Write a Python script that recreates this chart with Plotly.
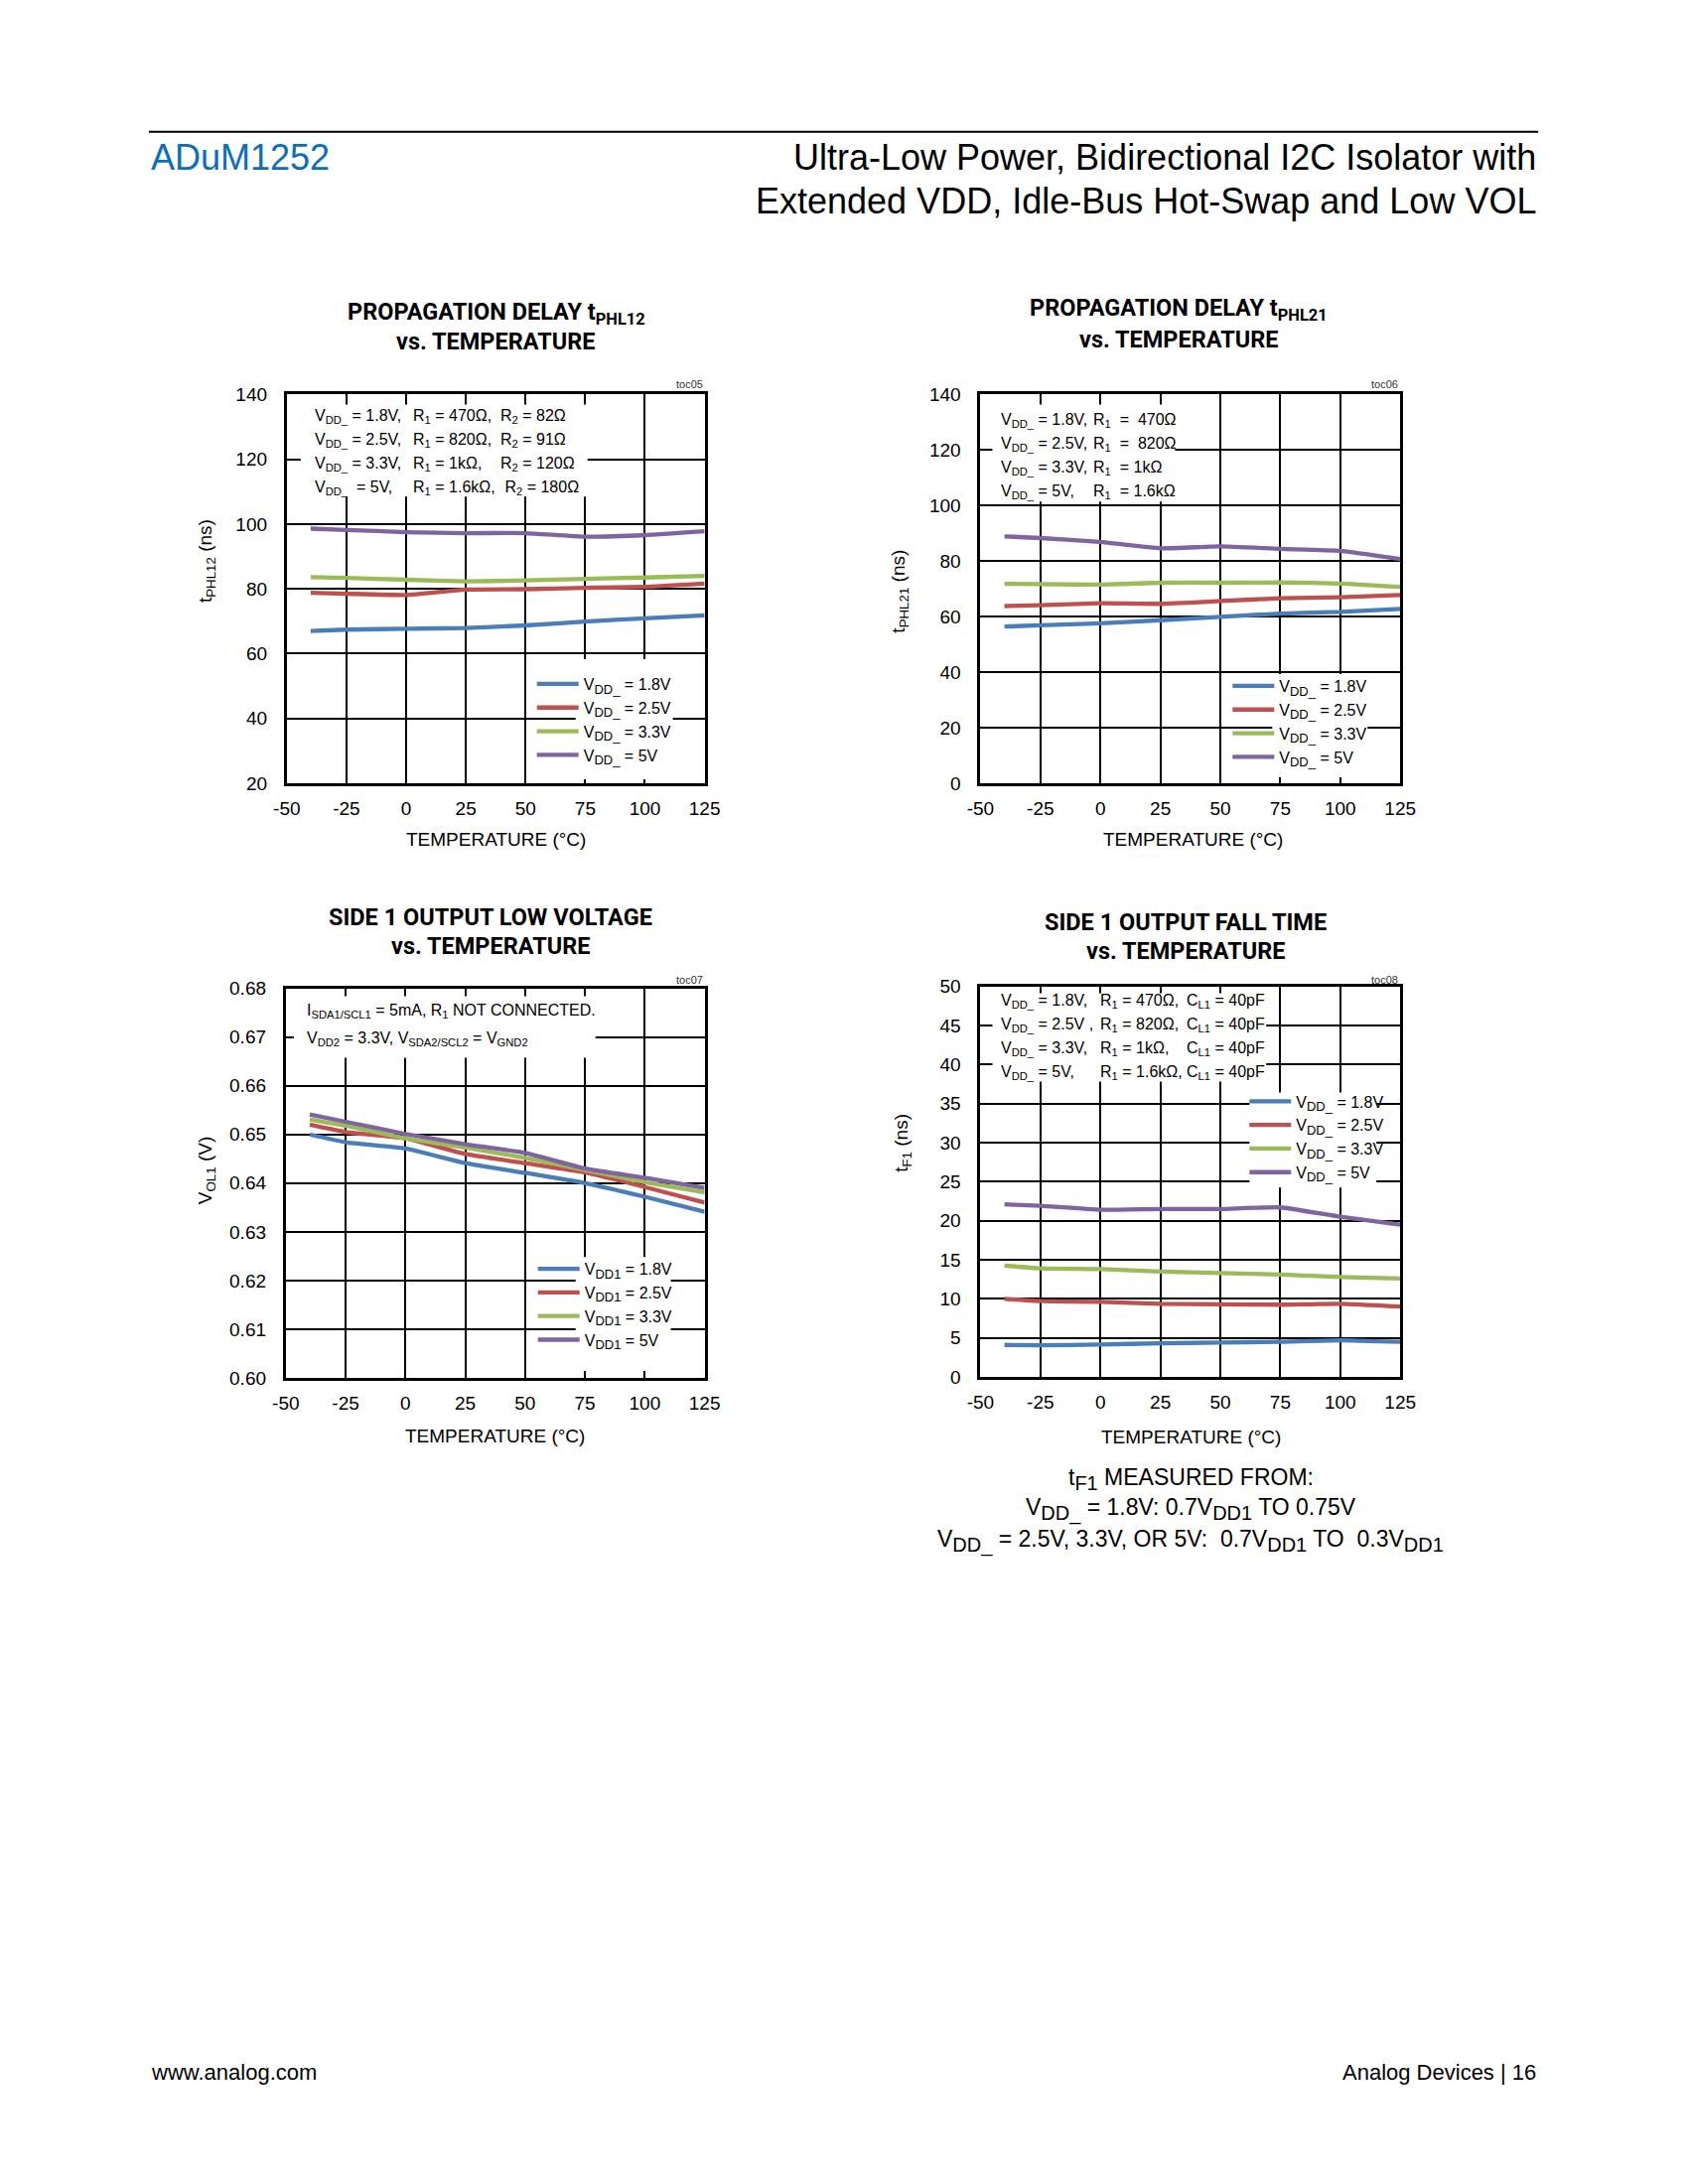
import plotly.graph_objects as go

# ---------------- data ----------------
temps = [-40, -25, 0, 25, 50, 75, 100, 125]

SL = '<sub><span style="font-size:13px">%s</span></sub>'
vdd_labels = ["V" + SL % "DD_" + " = 1.8V", "V" + SL % "DD_" + " = 2.5V",
              "V" + SL % "DD_" + " = 3.3V", "V" + SL % "DD_" + " = 5V"]
vdd1_labels = ["V" + SL % "DD1" + " = 1.8V", "V" + SL % "DD1" + " = 2.5V",
               "V" + SL % "DD1" + " = 3.3V", "V" + SL % "DD1" + " = 5V"]
colors = ["#4A7EBB", "#C0504D", "#9BBB59", "#8064A2"]

tphl12_18 = [67.0, 67.4, 67.7, 67.9, 68.7, 69.9, 70.9, 71.8]
tphl12_25 = [78.8, 78.5, 78.1, 79.8, 79.9, 80.3, 80.6, 81.6]
tphl12_33 = [83.6, 83.4, 82.8, 82.3, 82.6, 83.1, 83.5, 84.0]
tphl12_50 = [98.6, 98.2, 97.5, 97.2, 97.2, 96.1, 96.6, 97.8]

tphl21_18 = [56.4, 56.9, 57.6, 58.7, 59.9, 61.1, 61.7, 62.8]
tphl21_25 = [63.8, 64.1, 64.8, 64.6, 65.6, 66.6, 67.0, 67.8]
tphl21_33 = [71.8, 71.7, 71.5, 72.2, 72.2, 72.3, 71.9, 70.7]
tphl21_50 = [88.9, 88.3, 86.9, 84.6, 85.3, 84.4, 83.7, 80.7]

vol1_18 = [0.6500, 0.6484, 0.6471, 0.6441, 0.6421, 0.6400, 0.6372, 0.6341]
vol1_25 = [0.6520, 0.6505, 0.6492, 0.6460, 0.6441, 0.6422, 0.6392, 0.6360]
vol1_33 = [0.6531, 0.6518, 0.6492, 0.6473, 0.6452, 0.6427, 0.6402, 0.6381]
vol1_50 = [0.6541, 0.6526, 0.6501, 0.6480, 0.6462, 0.6430, 0.6411, 0.6390]

tf1_18 = [4.1, 4.05, 4.15, 4.3, 4.4, 4.5, 4.7, 4.5]
tf1_25 = [10.0, 9.7, 9.6, 9.35, 9.3, 9.25, 9.35, 9.0]
tf1_33 = [14.25, 13.9, 13.8, 13.5, 13.3, 13.1, 12.8, 12.6]
tf1_50 = [22.1, 21.9, 21.4, 21.5, 21.5, 21.7, 20.5, 19.5]

x_ticks = [-50, -25, 0, 25, 50, 75, 100, 125]
x_tick_labels = ["-50", "-25", "0", "25", "50", "75", "100", "125"]
y1_ticks = [20, 40, 60, 80, 100, 120, 140]
y2_ticks = [0, 20, 40, 60, 80, 100, 120, 140]
y3_ticks = [0.60, 0.61, 0.62, 0.63, 0.64, 0.65, 0.66, 0.67, 0.68]
y4_ticks = [0, 5, 10, 15, 20, 25, 30, 35, 40, 45, 50]

titles_l1 = ["PROPAGATION DELAY t<sub>PHL12</sub>", "PROPAGATION DELAY t<sub>PHL21</sub>",
             "SIDE 1 OUTPUT LOW VOLTAGE", "SIDE 1 OUTPUT FALL TIME"]
titles_l2 = ["vs. TEMPERATURE"] * 4
ytitles = ["t<sub>PHL12</sub> (ns)", "t<sub>PHL21</sub> (ns)", "V<sub>OL1</sub> (V)", "t<sub>F1</sub> (ns)"]
xtitle = "TEMPERATURE (°C)"
tocs = ["toc05", "toc06", "toc07", "toc08"]

c1_notes = [["V<sub>DD_</sub> = 1.8V,", "R<sub>1</sub> = 470Ω,", "R<sub>2</sub> = 82Ω"],
            ["V<sub>DD_</sub> = 2.5V,", "R<sub>1</sub> = 820Ω,", "R<sub>2</sub> = 91Ω"],
            ["V<sub>DD_</sub> = 3.3V,", "R<sub>1</sub> = 1kΩ,", "R<sub>2</sub> = 120Ω"],
            ["V<sub>DD_</sub>\u00a0 = 5V,", "R<sub>1</sub> = 1.6kΩ,", "\u00a0R<sub>2</sub> = 180Ω"]]
c2_notes = [["V<sub>DD_</sub> = 1.8V,", "R<sub>1</sub>\u00a0 = \u00a0470Ω"],
            ["V<sub>DD_</sub> = 2.5V,", "R<sub>1</sub>\u00a0 = \u00a0820Ω"],
            ["V<sub>DD_</sub> = 3.3V,", "R<sub>1</sub>\u00a0 = 1kΩ"],
            ["V<sub>DD_</sub> = 5V,", "R<sub>1</sub>\u00a0 = 1.6kΩ"]]
c3_notes = ["I<sub>SDA1/SCL1</sub> = 5mA, R<sub>1</sub> NOT CONNECTED.",
            "V<sub>DD2</sub> = 3.3V, V<sub>SDA2/SCL2</sub> = V<sub>GND2</sub>"]
c4_notes = [["V<sub>DD_</sub> = 1.8V,", "R<sub>1</sub> = 470Ω,", "C<sub>L1</sub> = 40pF"],
            ["V<sub>DD_</sub> = 2.5V ,", "R<sub>1</sub> = 820Ω,", "C<sub>L1</sub> = 40pF"],
            ["V<sub>DD_</sub> = 3.3V,", "R<sub>1</sub> = 1kΩ,", "C<sub>L1</sub> = 40pF"],
            ["V<sub>DD_</sub> = 5V,", "R<sub>1</sub> = 1.6kΩ,", "C<sub>L1</sub> = 40pF"]]
SB = '<sub><span style="font-size:20px">%s</span></sub>'
foot_notes = ["t" + SB % "F1" + " MEASURED FROM:",
              "V" + SB % "DD_" + " = 1.8V: 0.7V" + SB % "DD1" + " TO 0.75V",
              "V" + SB % "DD_" + " = 2.5V, 3.3V, OR 5V:\u00a0 0.7V" + SB % "DD1" + " TO\u00a0 0.3V" + SB % "DD1"]

# ---------------- layout helpers (target page pixel -> paper) ----------------
W, H = 1680, 2180
SX, CX = 0.9827, 14.0     # observed page mapping of the rendered figure
SY, CY = 0.9918, 9.0
def qx(p): return (p - CX) / SX
def qy(p): return (p - CY) / SY
def fx(p): return qx(p) / W
def fy(p): return 1 - qy(p) / H

FONT = "Liberation Sans, Arial, sans-serif"
TFONT = "Roboto, Liberation Sans, sans-serif"

rects = [(289, 710, 397, 789), (988, 1411, 397, 789), (288, 710, 996, 1389), (988, 1411, 994, 1388)]
yranges = [[20, 140], [0, 140], [0.60, 0.68], [0, 50]]
yticks = [y1_ticks, y2_ticks, y3_ticks, y4_ticks]
ydata = [[tphl12_18, tphl12_25, tphl12_33, tphl12_50],
         [tphl21_18, tphl21_25, tphl21_33, tphl21_50],
         [vol1_18, vol1_25, vol1_33, vol1_50],
         [tf1_18, tf1_25, tf1_33, tf1_50]]
names = [vdd_labels, vdd_labels, vdd1_labels, vdd_labels]

fig = go.Figure()
layout = dict(width=W, height=H, margin=dict(l=0, r=0, t=0, b=0),
              paper_bgcolor="white", plot_bgcolor="white",
              font=dict(family=FONT, color="black"), showlegend=True)
annotations = []
shapes = []

# legend placement (page px): line start x, first row center y
leg_pos = [(541, 690), (1242, 692), (542, 1280), (1259, 1111)]

# white boxes behind notes and legends (page px)
white_boxes = [(303, 592, 407, 500), (580, 678, 664, 785),
               (1000, 1184, 407, 505), (1282, 1378, 679, 783),
               (296, 600, 1004, 1066), (580, 676, 1267, 1382),
               (1000, 1276, 1001, 1090), (1259, 1387, 1101, 1197)]

for i in range(4):
    k = "" if i == 0 else str(i + 1)
    x0, x1, y0, y1 = rects[i]
    ax = dict(domain=[fx(x0), fx(x1)], range=[-50, 125], tickvals=x_ticks, ticktext=x_tick_labels,
              showline=True, mirror=True, linewidth=3, linecolor="black",
              showgrid=True, gridcolor="black", gridwidth=2, zeroline=False,
              ticks="", ticklabelstandoff=6, tickfont=dict(size=19, family=FONT),
              anchor="y" + k, fixedrange=True)
    ay = dict(domain=[fy(y1), fy(y0)], range=yranges[i], tickvals=yticks[i],
              showline=True, mirror=True, linewidth=3, linecolor="black",
              showgrid=True, gridcolor="black", gridwidth=2, zeroline=False,
              ticks="", ticklabelstandoff=13, tickfont=dict(size=19, family=FONT),
              anchor="x" + k, fixedrange=True)
    if i == 2:
        ay["tickformat"] = ".2f"
    layout["xaxis" + k] = ax
    layout["yaxis" + k] = ay
    lg = "legend" + k
    for j in range(4):
        fig.add_trace(go.Scatter(x=temps, y=ydata[i][j], mode="lines", name=names[i][j],
                                 line=dict(color=colors[j], width=4.3, shape="spline", smoothing=0.4),
                                 xaxis="x" + k, yaxis="y" + k, legend=lg,
                                 legendgroup="g%d_%d" % (i, j), hoverinfo="skip"))
    lx, ly = leg_pos[i]
    layout[lg] = dict(x=fx(lx - 5), y=fy(ly - 18), xanchor="left", yanchor="top",
                      bgcolor="rgba(0,0,0,0)", borderwidth=0, tracegroupgap=0, itemwidth=42,
                      font=dict(size=16, family=FONT), traceorder="grouped")

for (a, b, c, d) in white_boxes:
    shapes.append(dict(type="rect", xref="paper", yref="paper",
                       x0=fx(a), x1=fx(b), y0=fy(d), y1=fy(c),
                       fillcolor="white", line=dict(width=0), layer="above"))

def ann(text, x, y, size, xa="center", ya="middle", angle=0, family=FONT, color="black"):
    annotations.append(dict(text=text, x=fx(x), y=fy(y), xref="paper", yref="paper",
                            xanchor=xa, yanchor=ya, showarrow=False, textangle=angle,
                            font=dict(size=size, family=family, color=color)))

# titles
title_pos = [(500, 315, 343), (1188, 311, 341), (494.5, 924, 953), (1195, 929, 958)]
for i in range(4):
    cx, ya, yb = title_pos[i]
    ann("<b>" + titles_l1[i] + "</b>", cx, ya, 23.5, family=TFONT)
    ann("<b>" + titles_l2[i] + "</b>", cx, yb, 23.5, family=TFONT)

# axis titles
xt_pos = [(500, 846), (1202, 846), (499, 1448), (1200, 1449)]
yt_pos = [(208, 565), (907, 595), (208, 1180), (910, 1152)]
for i in range(4):
    ann(xtitle, xt_pos[i][0], xt_pos[i][1], 19)
    ann(ytitles[i], yt_pos[i][0], yt_pos[i][1], 19, angle=-90)
    ann(tocs[i], rects[i][1], 387 if i < 2 else 987, 11, xa="right", color="#333333")

# notes
c1_cols = [315, 414, 502]
c1_rows = [419, 443, 467, 491]
for r in range(4):
    for c in range(3):
        ann(c1_notes[r][c], c1_cols[c], c1_rows[r], 16, xa="left")
c2_cols = [1007, 1100]
c2_rows = [423, 447, 471, 495]
for r in range(4):
    for c in range(2):
        ann(c2_notes[r][c], c2_cols[c], c2_rows[r], 16, xa="left")
for r, yy in enumerate([1019, 1047]):
    ann(c3_notes[r], 307, yy, 16, xa="left")
c4_cols = [1007, 1107, 1194]
c4_rows = [1009, 1033, 1057, 1081]
for r in range(4):
    for c in range(3):
        ann(c4_notes[r][c], c4_cols[c], c4_rows[r], 16, xa="left")

# footnote
for r, yy in enumerate([1491, 1522, 1554]):
    ann(foot_notes[r], 1200, yy, 23)

# page header / footer
shapes.append(dict(type="line", xref="paper", yref="paper", x0=fx(150), x1=fx(1550), y0=fy(132), y1=fy(132),
                   line=dict(color="black", width=2)))
ann("ADuM1252", 150, 158, 36, xa="left", color="#0A6EBD")
ann("Ultra-Low Power, Bidirectional I2C Isolator with", 1550, 158, 36, xa="right")
ann("Extended VDD, Idle-Bus Hot-Swap and Low VOL", 1550, 202, 36, xa="right")
ann("www.analog.com", 150, 2090, 22, xa="left")
ann("Analog Devices | 16", 1550, 2090, 22, xa="right")

layout["annotations"] = annotations
layout["shapes"] = shapes
fig.update_layout(**layout)
fig.write_html("out.html")
